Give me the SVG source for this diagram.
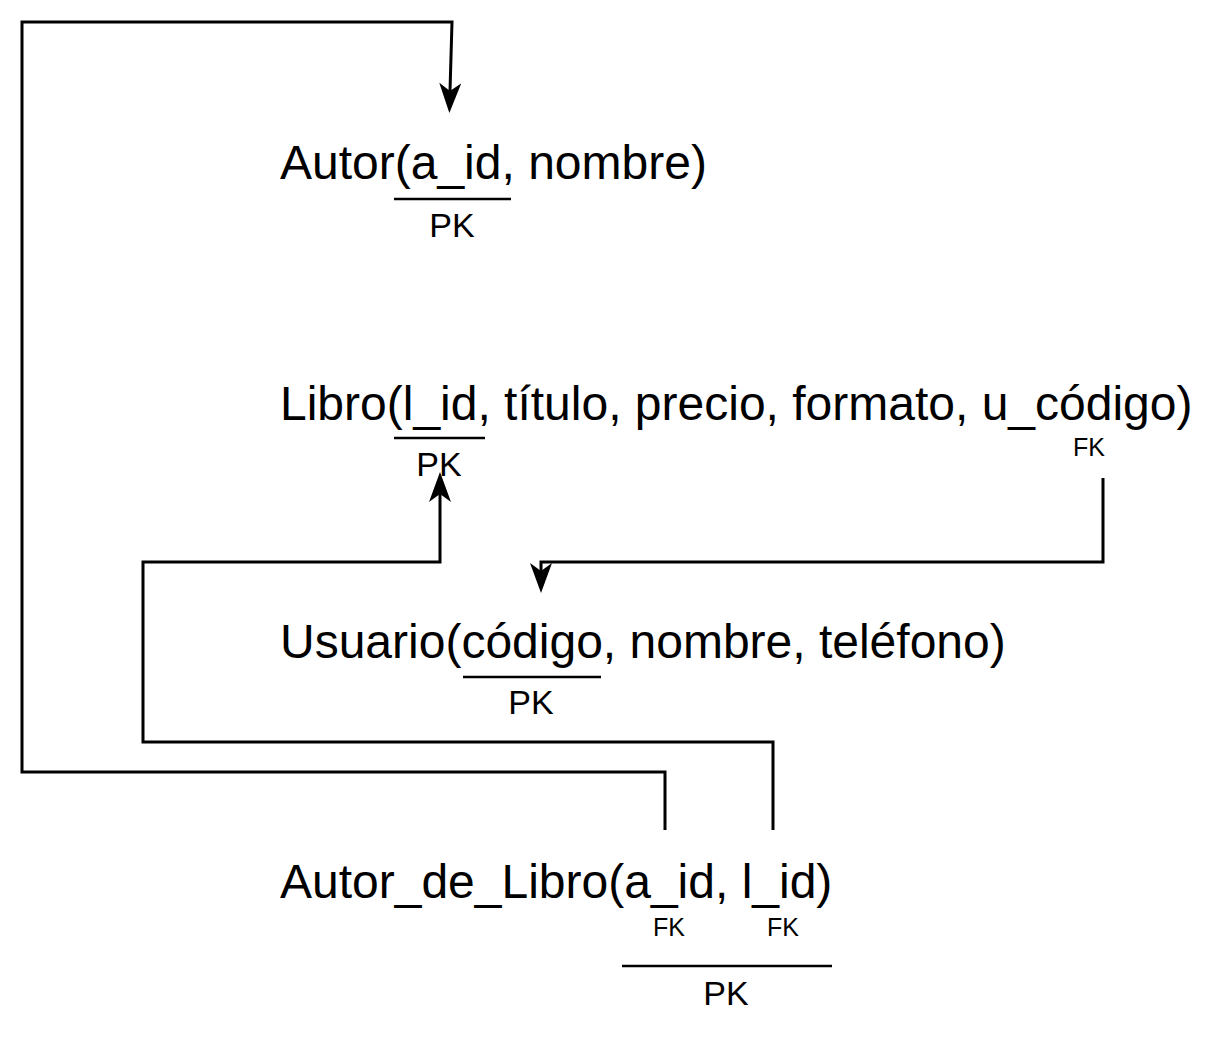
<svg xmlns="http://www.w3.org/2000/svg" width="1224" height="1053" viewBox="0 0 1224 1053">
<style>
.t{font-family:"Liberation Sans",Arial,Helvetica,sans-serif;fill:#000;font-size:48px}
.pk{font-family:"Liberation Sans",Arial,Helvetica,sans-serif;fill:#000;font-size:34px;text-anchor:middle}
.fk{font-family:"Liberation Sans",Arial,Helvetica,sans-serif;fill:#000;font-size:25px;text-anchor:middle}
.ul{stroke:#000;stroke-width:2.5;fill:none}
.c{stroke:#000;stroke-width:3;fill:none}
</style>
<defs>
<marker id="arr" viewBox="0 0 30 22" refX="8" refY="11" markerWidth="30" markerHeight="22" markerUnits="userSpaceOnUse" orient="auto">
<path d="M0,0 L30,11 L0,22 L8,11 Z" fill="#000"/>
</marker>
</defs>
<g id="connectors">
<path class="c" d="M665,830 L665,772 L22,772 L22,22 L452,22 L450,91" marker-end="url(#arr)"/>
<path class="c" d="M773,830 L773,742 L143,742 L143,562 L440,562 L440,494" marker-end="url(#arr)"/>
<path class="c" d="M1103,478 L1103,562 L541,562 L541,571" marker-end="url(#arr)"/>
</g>
<g id="autor">
<text class="t" x="280" y="179">Autor(a_id, nombre)</text>
<line class="ul" x1="394" y1="199" x2="511" y2="199"/>
<text class="pk" x="452" y="237">PK</text>
</g>
<g id="libro">
<text class="t" x="280" y="420">Libro(l_id, título, precio, formato, u_código)</text>
<line class="ul" x1="394" y1="438" x2="485" y2="438"/>
<text class="pk" x="439" y="476">PK</text>
<text class="fk" x="1089" y="456">FK</text>
</g>
<g id="usuario">
<text class="t" x="280" y="658">Usuario(código, nombre, teléfono)</text>
<line class="ul" x1="463" y1="677" x2="601" y2="677"/>
<text class="pk" x="531" y="714">PK</text>
</g>
<g id="autor_de_libro">
<text class="t" x="280" y="898">Autor_de_Libro(a_id, l_id)</text>
<text class="fk" x="669" y="936">FK</text>
<text class="fk" x="783" y="936">FK</text>
<line class="ul" x1="622" y1="966" x2="832" y2="966"/>
<text class="pk" x="726" y="1005">PK</text>
</g>
</svg>
